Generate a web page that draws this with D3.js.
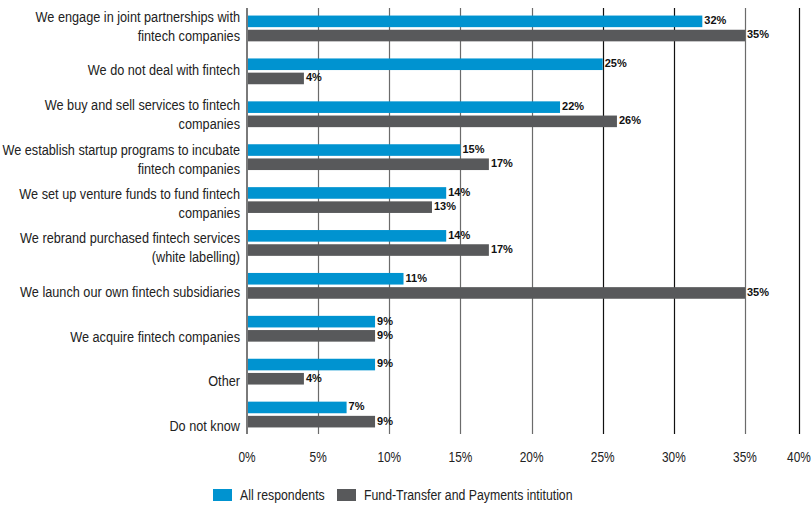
<!DOCTYPE html>
<html>
<head>
<meta charset="utf-8">
<script src="https://cdn.jsdelivr.net/npm/d3@7"></script>
<style>
  html, body { margin: 0; padding: 0; background: #fff; }
  svg { display: block; }
</style>
</head>
<body>
<svg id="chart" width="812" height="508"></svg>
<script>
const categories = [
  "We engage in joint partnerships with|fintech companies",
  "We do not deal with fintech",
  "We buy and sell services to fintech|companies",
  "We establish startup programs to incubate|fintech companies",
  "We set up venture funds to fund fintech|companies",
  "We rebrand purchased fintech services|(white labelling)",
  "We launch our own fintech subsidiaries",
  "We acquire fintech companies",
  "Other",
  "Do not know"
];
const seriesNames = ["All respondents", "Fund-Transfer and Payments intitution"];
const allRespondents = [32, 25, 22, 15, 14, 14, 11, 9, 9, 7];
const fundTransfer = [35, 4, 26, 17, 13, 17, 35, 9, 4, 9];
const tickValues = [0, 5, 10, 15, 20, 25, 30, 35, 40];
const colors = ["#0093D0", "#58595B"];

const svg = d3.select("#chart");
const FONT = "'Liberation Sans', Arial, sans-serif";
const NARROW = 0.82;

// condensed text helper: draws text horizontally scaled around its anchor point
function narrowText(parent, tx, ty, str, opts) {
  const g = parent.append("g").attr("transform", `translate(${tx},${ty}) scale(${NARROW},1)`);
  return g.append("text")
    .attr("x", 0).attr("y", 0)
    .attr("text-anchor", opts.anchor || "start")
    .attr("font-family", FONT)
    .attr("font-size", opts.size)
    .attr("fill", opts.fill || "#222")
    .text(str);
}

const x = d3.scaleLinear().domain([0, 35, 40]).range([247, 745, 799]);
const y = d3.scaleBand().domain(categories).range([8, 437]);
const yLabel = d3.scalePoint().domain(categories).range([25.5, 425]);
const barH = 11.6, barGap = 2.6;
const groupH = barH * 2 + barGap;
const groupTop = c => y(c) + (y.bandwidth() - groupH) / 2 - 1;

// gridlines
svg.append("g").selectAll("line").data(tickValues.filter(t => t > 0)).join("line")
  .attr("x1", d => Math.round(x(d)) + 0.5).attr("x2", d => Math.round(x(d)) + 0.5)
  .attr("y1", 8).attr("y2", 434)
  .attr("stroke", d => (d >= 25 && d !== 35) ? "#111" : "#6b6b6b")
  .attr("stroke-width", 1.2);

// bars
const series = [allRespondents, fundTransfer];
series.forEach((vals, si) => {
  const g = svg.append("g");
  g.selectAll("rect").data(categories).join("rect")
    .attr("x", x(0))
    .attr("y", c => groupTop(c) + si * (barH + barGap))
    .attr("width", (c, i) => x(vals[i]) - x(0))
    .attr("height", barH)
    .attr("fill", colors[si]);
  g.selectAll("text").data(categories).join("text")
    .attr("x", (c, i) => x(vals[i]) + 2)
    .attr("y", c => groupTop(c) + si * (barH + barGap) + barH / 2 - 1)
    .attr("dy", "0.35em")
    .attr("font-family", FONT)
    .attr("font-weight", "bold")
    .attr("font-size", 11)
    .attr("fill", "#111")
    .text((c, i) => vals[i] + "%");
});

// zero axis line
svg.append("line")
  .attr("x1", x(0)).attr("x2", x(0)).attr("y1", 8).attr("y2", 434)
  .attr("stroke", "#7a7a7a").attr("stroke-width", 2);

// category labels
const lab = svg.append("g");
categories.forEach(c => {
  const lines = c.split("|");
  const cy = yLabel(c);
  lines.forEach((ln, i) => {
    narrowText(lab, 240, cy + (i - (lines.length - 1) / 2) * 19 + 5.5, ln,
      { anchor: "end", size: 15.5 });
  });
});

// x tick labels
const tl = svg.append("g");
tickValues.forEach(d => narrowText(tl, x(d), 462, d + "%", { anchor: "middle", size: 14.5 }));

// legend
const legendX = [213, 337];
const leg = svg.append("g");
seriesNames.forEach((n, i) => {
  leg.append("rect").attr("x", legendX[i]).attr("y", 489).attr("width", 19).attr("height", 12).attr("fill", colors[i]);
  narrowText(leg, legendX[i] + 27, 500, n, { size: 15 });
});
</script>
</body>
</html>
